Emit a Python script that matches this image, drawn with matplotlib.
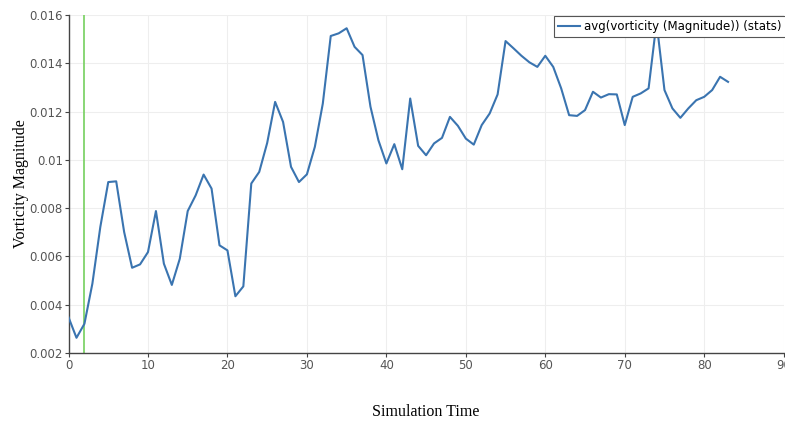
import matplotlib
matplotlib.use("Agg")
import matplotlib.pyplot as plt
import numpy as np

# avg vorticity magnitude per time step
vort = [0.00348, 0.00263, 0.00321, 0.00487, 0.00722, 0.00908, 0.00911, 0.00701, 0.00553, 0.00567,
        0.00618, 0.00788, 0.00570, 0.00482, 0.00590, 0.00788, 0.00853, 0.00939, 0.00881, 0.00646,
        0.00625, 0.00435, 0.00476, 0.00902, 0.00950, 0.01070, 0.01240, 0.01157, 0.00971, 0.00908,
        0.00940, 0.01054, 0.01233, 0.01513, 0.01524, 0.01545, 0.01468, 0.01434, 0.01220, 0.01081,
        0.00985, 0.01065, 0.00961, 0.01254, 0.01058, 0.01019, 0.01068, 0.01091, 0.01178, 0.01141,
        0.01088, 0.01063, 0.01144, 0.01192, 0.01271, 0.01492, 0.01462, 0.01431, 0.01404, 0.01385,
        0.01431, 0.01385, 0.01296, 0.01185, 0.01182, 0.01206, 0.01282, 0.01258, 0.01272, 0.01271,
        0.01144, 0.01261, 0.01275, 0.01296, 0.01570, 0.01289, 0.01213, 0.01174, 0.01213, 0.01247,
        0.01261, 0.01289, 0.01344, 0.01323]
time = np.arange(len(vort))
marker_time = 2

xticks = [0, 10, 20, 30, 40, 50, 60, 70, 80, 90]
yticks = [0.002, 0.004, 0.006, 0.008, 0.01, 0.012, 0.014, 0.016]

fig = plt.figure(figsize=(7.85, 4.22), dpi=100)
ax = fig.add_axes([0.0873, 0.1635, 0.911, 0.801])

ax.plot(time, vort, color='#3a74b0', lw=1.5, label='avg(vorticity (Magnitude)) (stats)', zorder=3)
ax.axvline(marker_time, color='#7fd36a', lw=1.3, zorder=2)

ax.set_xlim(0, 90)
ax.set_ylim(0.002, 0.016)
ax.set_xticks(xticks)
ax.set_yticks(yticks)
ax.set_yticklabels(['%g' % v for v in yticks])
ax.grid(True, color='#eeeeee', lw=0.8)
ax.set_axisbelow(True)

for s in ['top', 'right']:
    ax.spines[s].set_visible(False)
for s in ['left', 'bottom']:
    ax.spines[s].set_color('#444444')
    ax.spines[s].set_linewidth(1.0)
ax.tick_params(colors='#444444', labelsize=8.5, length=3, pad=1)
ax.tick_params(axis='x', labelcolor='#555555')
ax.tick_params(axis='y', labelcolor='#555555')

ax.set_xlabel('Simulation Time', family='Liberation Serif', fontsize=11.5, labelpad=23)
ax.set_ylabel('Vorticity Magnitude', family='Liberation Serif', fontsize=11.5, labelpad=0)

leg = ax.legend(loc='upper right', bbox_to_anchor=(1.005, 1.0), fontsize=8.5, frameon=True,
                fancybox=False, borderpad=0.35, handlelength=1.8, handletextpad=0.4,
                borderaxespad=0.1)
leg.get_frame().set_edgecolor('#555555')
leg.get_frame().set_linewidth(0.8)
leg.get_frame().set_alpha(1.0)
leg.set_zorder(5)

fig.savefig('out.png', dpi=100)
